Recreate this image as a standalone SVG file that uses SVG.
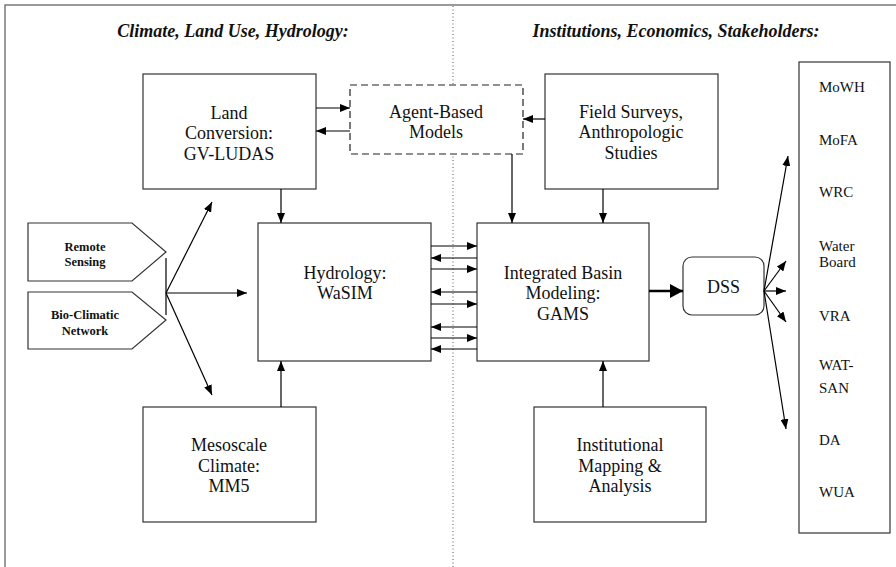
<svg xmlns="http://www.w3.org/2000/svg" width="896" height="567" viewBox="0 0 896 567" font-family="'Liberation Serif', 'DejaVu Serif', serif">
<defs>
<marker id="ah" markerUnits="userSpaceOnUse" markerWidth="10" markerHeight="8" refX="10" refY="4" orient="auto"><path d="M0,0 L10,4 L0,8 z" fill="#000"/></marker>
<marker id="ahb" markerUnits="userSpaceOnUse" markerWidth="13" markerHeight="14" refX="13" refY="7" orient="auto"><path d="M0,0 L13,7 L0,14 z" fill="#000"/></marker>
</defs>
<style>
.box{fill:#fff;stroke:#333;stroke-width:1.2}
text{font-family:'Liberation Serif','DejaVu Serif',serif}
.t{font-size:18px;fill:#111;text-anchor:middle}
.h{font-size:18px;font-weight:bold;font-style:italic;fill:#111;text-anchor:middle}
.s{font-size:15px;fill:#111}
.b{font-size:12.5px;font-weight:bold;fill:#111;text-anchor:middle}
.c{stroke:#000;stroke-width:1.2;fill:none;marker-end:url(#ah)}
</style>
<rect x="5" y="5" width="900" height="580" fill="#fff" stroke="#666" stroke-width="1.3"/>
<line x1="453" y1="6" x2="453" y2="567" stroke="#555" stroke-width="1" stroke-dasharray="1,2.5"/>
<text class="h" x="233" y="37" font-family="Liberation Serif">Climate, Land Use, Hydrology:</text>
<text class="h" x="676" y="37" font-family="Liberation Serif">Institutions, Economics, Stakeholders:</text>

<g id="landconv"><rect class="box" x="143" y="74" width="173" height="115"/>
<text class="t" x="229" y="118.5">Land</text><text class="t" x="229" y="139">Conversion:</text><text class="t" x="229" y="159.5">GV-LUDAS</text></g>

<g id="agent"><rect x="350" y="85" width="173" height="69" fill="#fff" stroke="#222" stroke-width="1.2" stroke-dasharray="7,4"/>
<text class="t" x="436" y="118">Agent-Based</text><text class="t" x="436" y="138">Models</text></g>

<g id="field"><rect class="box" x="545" y="74" width="173" height="115"/>
<text class="t" x="631" y="118">Field Surveys,</text><text class="t" x="631" y="138">Anthropologic</text><text class="t" x="631" y="158.5">Studies</text></g>

<g id="stakeholders"><rect class="box" x="799" y="62" width="91" height="471"/>
<text class="s" x="819" y="92">MoWH</text>
<text class="s" x="819" y="145">MoFA</text>
<text class="s" x="819" y="197">WRC</text>
<text class="s" x="819" y="251">Water</text>
<text class="s" x="819" y="267">Board</text>
<text class="s" x="819" y="321">VRA</text>
<text class="s" x="819" y="370">WAT-</text>
<text class="s" x="819" y="393">SAN</text>
<text class="s" x="819" y="445">DA</text>
<text class="s" x="819" y="497">WUA</text></g>

<g id="remote"><polygon class="box" points="28,223 132,223 166,252 132,281 28,281"/>
<text class="b" x="85" y="251">Remote</text><text class="b" x="85" y="266">Sensing</text></g>

<g id="bioclim"><polygon class="box" points="28,292 132,292 166,320 132,349 28,349"/>
<text class="b" x="85" y="319">Bio-Climatic</text><text class="b" x="85" y="335">Network</text></g>

<g id="hydrology"><rect class="box" x="258" y="223" width="173" height="138"/>
<text class="t" x="345" y="279">Hydrology:</text><text class="t" x="345" y="299">WaSIM</text></g>

<g id="integrated"><rect class="box" x="477" y="223" width="172" height="138"/>
<text class="t" x="563" y="278.5">Integrated Basin</text><text class="t" x="563" y="299">Modeling:</text><text class="t" x="563" y="319.5">GAMS</text></g>

<g id="dss"><rect class="box" x="683" y="257" width="81" height="58" rx="9"/>
<text class="t" x="723.5" y="293">DSS</text></g>

<g id="mesoscale"><rect class="box" x="143" y="407" width="173" height="115"/>
<text class="t" x="229" y="451">Mesoscale</text><text class="t" x="229" y="471.5">Climate:</text><text class="t" x="229" y="492">MM5</text></g>

<g id="institutional"><rect class="box" x="534" y="407" width="172" height="115"/>
<text class="t" x="620" y="451">Institutional</text><text class="t" x="620" y="471.5">Mapping &amp;</text><text class="t" x="620" y="492">Analysis</text></g>

<g id="connectors">
<line class="c" x1="316" y1="108" x2="350" y2="108"/>
<line class="c" x1="350" y1="131" x2="316" y2="131"/>
<line class="c" x1="545" y1="119" x2="523" y2="119"/>
<line class="c" x1="281" y1="189" x2="281" y2="223"/>
<line class="c" x1="512" y1="154" x2="512" y2="223"/>
<line class="c" x1="603" y1="189" x2="603" y2="223"/>
<line class="c" x1="281" y1="407" x2="281" y2="361"/>
<line class="c" x1="603" y1="407" x2="603" y2="361"/>
<line class="c" x1="431" y1="246" x2="477" y2="246"/>
<line class="c" x1="477" y1="258" x2="431" y2="258"/>
<line class="c" x1="431" y1="269" x2="477" y2="269"/>
<line class="c" x1="477" y1="292" x2="431" y2="292"/>
<line class="c" x1="431" y1="304" x2="477" y2="304"/>
<line class="c" x1="477" y1="327" x2="431" y2="327"/>
<line class="c" x1="431" y1="338" x2="477" y2="338"/>
<line class="c" x1="477" y1="349" x2="431" y2="349"/>
<line x1="166" y1="258" x2="166" y2="315" stroke="#000" stroke-width="1.2"/>
<line class="c" x1="166" y1="293" x2="212" y2="202"/>
<line class="c" x1="166" y1="293" x2="247" y2="293"/>
<line class="c" x1="166" y1="293" x2="212" y2="395"/>
<line x1="649" y1="291" x2="683" y2="291" stroke="#000" stroke-width="2.6" marker-end="url(#ahb)"/>
<line class="c" x1="764" y1="291" x2="788" y2="156"/>
<line class="c" x1="764" y1="291" x2="786" y2="261"/>
<line class="c" x1="764" y1="291" x2="786" y2="291"/>
<line class="c" x1="764" y1="291" x2="786" y2="322"/>
<line class="c" x1="764" y1="291" x2="786" y2="429"/>
</g>
</svg>
